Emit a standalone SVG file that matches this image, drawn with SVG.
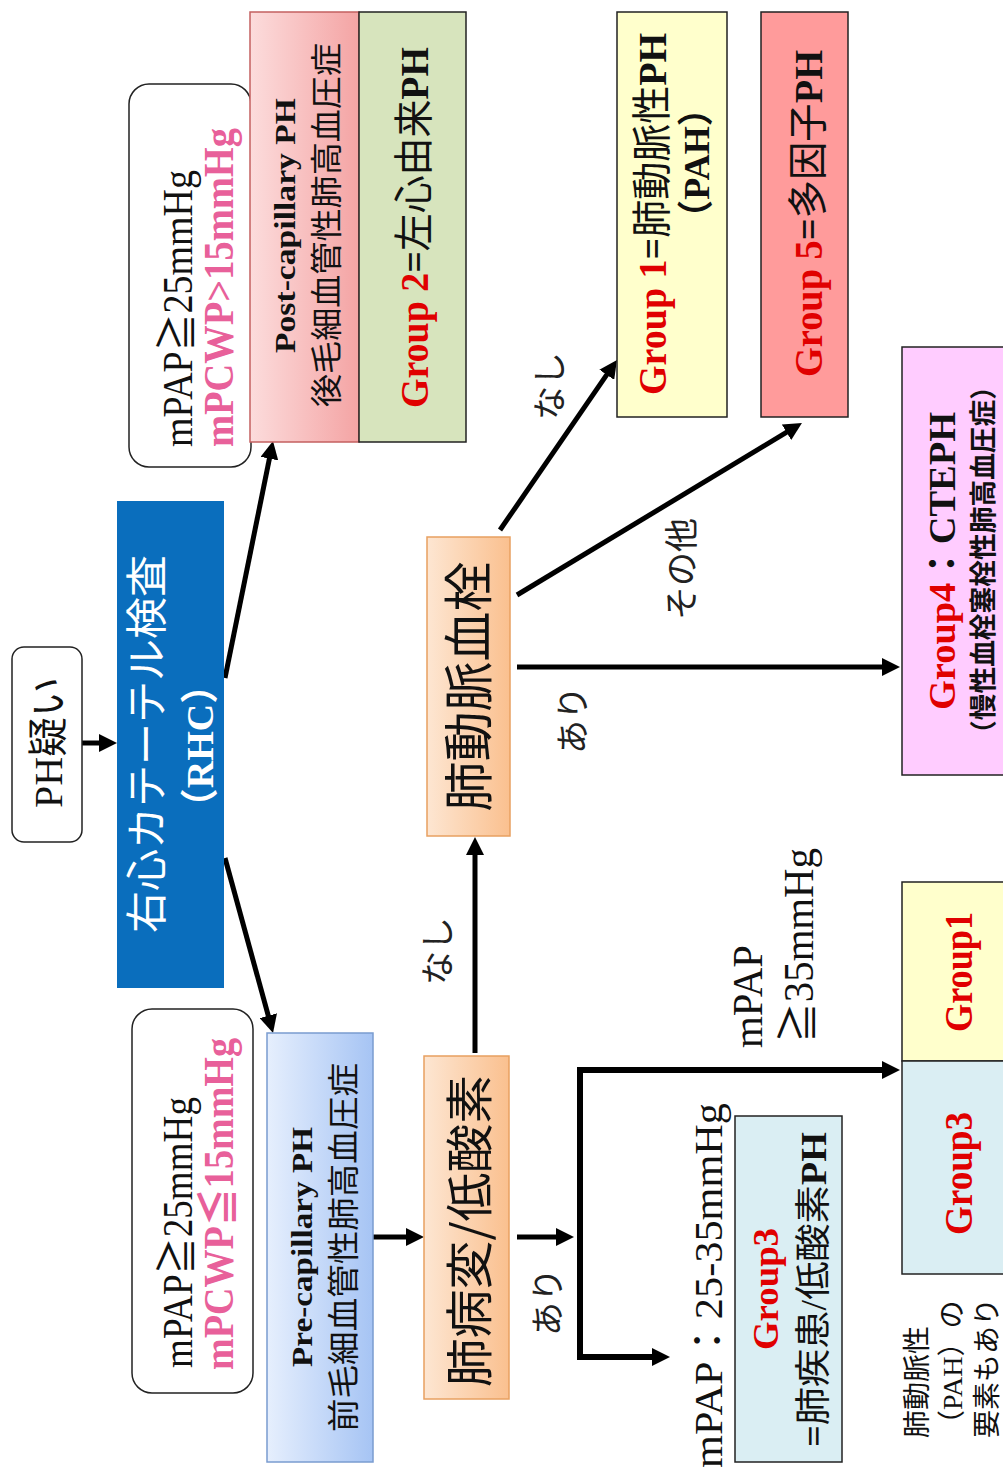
<svg xmlns="http://www.w3.org/2000/svg" width="1003" height="1468" viewBox="0 0 1003 1468">
<style>
.t{font-family:"Liberation Serif","Noto Sans CJK JP",serif;fill:#111}
.j{font-family:"Noto Sans CJK JP","Liberation Serif",sans-serif;fill:#111}
.b{font-weight:bold}
.n{font-weight:normal}
.red{fill:#E00000}
.pink{fill:#E8609A}
.box{stroke:#222;stroke-width:1.5}
.conn{fill:none;stroke:#000;stroke-width:5}
.lbl{font-family:"Noto Sans CJK JP",sans-serif;font-size:34px;fill:#222;text-anchor:middle}
</style>
<defs>
<marker id="ah" viewBox="0 0 18 18" refX="8" refY="9" markerWidth="18" markerHeight="18" markerUnits="userSpaceOnUse" orient="auto-start-reverse"><path d="M0,0 L18,9 L0,18 z" fill="#000"/></marker>
<linearGradient id="gPink" x1="0" y1="0" x2="0" y2="1"><stop offset="0" stop-color="#FCDCDC"/><stop offset="1" stop-color="#F4A4A4"/></linearGradient>
<linearGradient id="gBlue" x1="0" y1="0" x2="0" y2="1"><stop offset="0" stop-color="#E6EFFD"/><stop offset="1" stop-color="#A6C4F4"/></linearGradient>
<linearGradient id="gOrange" x1="0" y1="0" x2="0" y2="1"><stop offset="0" stop-color="#FDE6D2"/><stop offset="1" stop-color="#FAC08F"/></linearGradient>
</defs>
<rect width="1003" height="1468" fill="#fff"/>
<g transform="translate(0,1468) rotate(-90)">
<g id="connectors">
<path class="conn" d="M725 82 L725 107" marker-end="url(#ah)"/>
<path class="conn" d="M790 225 L1017.2 271" marker-end="url(#ah)"/>
<path class="conn" d="M610 225 L444.6 270.4" marker-end="url(#ah)"/>
<path class="conn" d="M231 373 L231 414" marker-end="url(#ah)"/>
<path class="conn" d="M415 475 L621 475" marker-end="url(#ah)"/>
<path class="conn" d="M938 500 L1099.8 611.3" marker-end="url(#ah)"/>
<path class="conn" d="M873 517 L1039.8 793.4" marker-end="url(#ah)"/>
<path class="conn" d="M801 517 L801 890" marker-end="url(#ah)"/>
<path class="conn" d="M231 517 L231 564" marker-end="url(#ah)"/>
<path class="conn" style="stroke-width:6" d="M111 660 L111 580 L398 580 L398 890" marker-start="url(#ah)" marker-end="url(#ah)"/>
</g>
<g id="ph-suspect">
<rect class="box" x="626" y="12" width="195" height="70" rx="12" fill="#fff"/>
<text class="t" x="660" y="62" font-size="40" textLength="131" lengthAdjust="spacingAndGlyphs">PH疑い</text>
</g>
<g id="rhc">
<rect x="480" y="117" width="487" height="107" fill="#0A6EBD"/>
<text class="j" x="535" y="162" font-size="42" style="fill:#fff" textLength="378" lengthAdjust="spacingAndGlyphs">右心カテーテル検査</text>
<text class="t b" x="722" y="213" font-size="38" style="fill:#fff" text-anchor="middle">（RHC）</text>
</g>
<g id="cond-post">
<rect class="box" x="1001" y="129" width="383" height="122" rx="20" fill="#fff"/>
<text class="t" x="1021" y="192" font-size="42" textLength="277" lengthAdjust="spacingAndGlyphs">mPAP≧25mmHg</text>
<text class="t b pink" x="1021" y="233" font-size="42" textLength="319" lengthAdjust="spacingAndGlyphs">mPCWP&gt;15mmHg</text>
</g>
<g id="post-capillary">
<rect x="1026" y="250" width="430" height="109" fill="url(#gPink)" stroke="#C46060" stroke-width="1.5"/>
<text class="t b" x="1115" y="295" font-size="30" textLength="255" lengthAdjust="spacingAndGlyphs">Post-capillary PH</text>
<text class="j" x="1061" y="338" font-size="32" textLength="364" lengthAdjust="spacingAndGlyphs">後毛細血管性肺高血圧症</text>
</g>
<g id="group2">
<rect class="box" x="1026" y="359" width="430" height="107" fill="#D7E4BD"/>
<text class="t b" x="1060" y="428" font-size="40" textLength="361" lengthAdjust="spacingAndGlyphs"><tspan class="red">Group 2</tspan>=<tspan class="n">左心由来</tspan>PH</text>
</g>
<g id="group1-pah">
<rect class="box" x="1051" y="617" width="405" height="110" fill="#FFFFCC"/>
<text class="t b" x="1073" y="666" font-size="40" textLength="362" lengthAdjust="spacingAndGlyphs"><tspan class="red">Group 1</tspan>=<tspan class="n">肺動脈性</tspan>PH</text>
<text class="t b" x="1305" y="709" font-size="36" text-anchor="middle">（PAH）</text>
</g>
<g id="group5">
<rect class="box" x="1051" y="761" width="405" height="87" fill="#FF9B9B"/>
<text class="t b" x="1091" y="822" font-size="40" textLength="327" lengthAdjust="spacingAndGlyphs"><tspan class="red">Group 5</tspan>=<tspan class="n">多因子</tspan>PH</text>
</g>
<g id="group4">
<rect class="box" x="693" y="902" width="428" height="112" fill="#FFCCFF"/>
<text class="t b" x="758" y="955" font-size="38" textLength="298" lengthAdjust="spacingAndGlyphs"><tspan class="red">Group4</tspan>：CTEPH</text>
<text class="j b" x="721" y="993" font-size="27" textLength="374" lengthAdjust="spacingAndGlyphs">（慢性血栓塞栓性肺高血圧症）</text>
</g>
<g id="pulmonary-embolism">
<rect x="632" y="427" width="299" height="83" fill="url(#gOrange)" stroke="#E8A060" stroke-width="1.5"/>
<text class="j" x="781.5" y="487" font-size="50" text-anchor="middle">肺動脈血栓</text>
</g>
<g id="lung-hypoxia">
<rect x="69" y="424" width="343" height="85" fill="url(#gOrange)" stroke="#E8A060" stroke-width="1.5"/>
<text class="j" x="81" y="487" font-size="48" textLength="312" lengthAdjust="spacingAndGlyphs">肺病変/低酸素</text>
</g>
<g id="pre-capillary">
<rect x="6" y="267" width="429" height="106" fill="url(#gBlue)" stroke="#7A9CD0" stroke-width="1.5"/>
<text class="t b" x="101" y="312" font-size="30" textLength="240" lengthAdjust="spacingAndGlyphs">Pre-capillary PH</text>
<text class="j" x="36" y="355" font-size="32" textLength="369" lengthAdjust="spacingAndGlyphs">前毛細血管性肺高血圧症</text>
</g>
<g id="cond-pre">
<rect class="box" x="75" y="132" width="384" height="121" rx="20" fill="#fff"/>
<text class="t" x="100" y="192" font-size="42" textLength="271" lengthAdjust="spacingAndGlyphs">mPAP≧25mmHg</text>
<text class="t b pink" x="98" y="233" font-size="42" textLength="332" lengthAdjust="spacingAndGlyphs">mPCWP≦15mmHg</text>
</g>
<g id="group3-main">
<rect class="box" x="6" y="735" width="346" height="107" fill="#DAEEF3"/>
<text class="t b red" x="118" y="778" font-size="36" textLength="122" lengthAdjust="spacingAndGlyphs">Group3</text>
<text class="t b" x="21" y="826" font-size="36" textLength="315" lengthAdjust="spacingAndGlyphs">=<tspan class="n">肺疾患/低酸素</tspan>PH</text>
</g>
<g id="group1-small">
<rect class="box" x="407" y="902" width="179" height="112" fill="#FFFFCC"/>
<text class="t b red" x="436" y="972" font-size="40" textLength="120" lengthAdjust="spacingAndGlyphs">Group1</text>
</g>
<g id="group3-small">
<rect class="box" x="194" y="902" width="213" height="112" fill="#DAEEF3"/>
<text class="t b red" x="233" y="972" font-size="40" textLength="123" lengthAdjust="spacingAndGlyphs">Group3</text>
</g>
<g id="labels">
<text class="lbl" x="517" y="450">なし</text>
<text class="lbl" x="1082" y="562">なし</text>
<text class="lbl" x="899" y="694" font-size="38">その他</text>
<text class="lbl" x="748" y="585">あり</text>
<text class="lbl" x="166" y="560">あり</text>
<text class="t" x="0" y="722" font-size="40" textLength="365" lengthAdjust="spacingAndGlyphs">mPAP：25-35mmHg</text>
<text class="t" x="420" y="762" font-size="42" textLength="103" lengthAdjust="spacingAndGlyphs">mPAP</text>
<text class="t" x="425" y="813" font-size="42" textLength="195" lengthAdjust="spacingAndGlyphs">≧35mmHg</text>
<text class="j" x="30" y="927" font-size="28">肺動脈性</text>
<text class="t" x="30" y="962" font-size="28">（PAH）の</text>
<text class="j" x="30" y="997" font-size="28">要素もあり</text>
</g>
</g>
</svg>
